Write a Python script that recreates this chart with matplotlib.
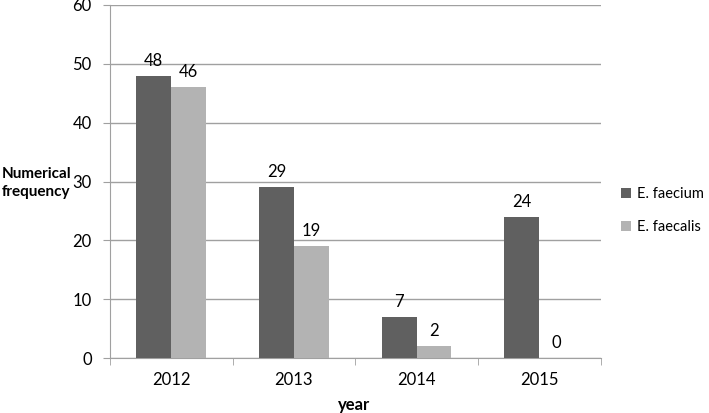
import matplotlib.pyplot as plt
import numpy as np

plt.rcParams['font.family'] = ['Lato', 'DejaVu Sans']

years = ['2012', '2013', '2014', '2015']
faecium = [48, 29, 7, 24]
faecalis = [46, 19, 2, 0]

fig = plt.figure(figsize=(7.09, 4.13), dpi=100)
ax = fig.add_axes([0.155, 0.133, 0.692, 0.855])

x = np.arange(len(years))
w = 0.285
b1 = ax.bar(x - w / 2, faecium, w, color='#606060', label='E. faecium', zorder=3)
b2 = ax.bar(x + w / 2, faecalis, w, color='#b3b3b3', label='E. faecalis', zorder=3)

for bars in (b1, b2):
    for r in bars:
        ax.text(r.get_x() + r.get_width() / 2, r.get_height() + 1.2, str(int(r.get_height())),
                ha='center', va='bottom', fontsize=12)

ax.set_xlim(-0.5, 3.5)
ax.set_ylim(0, 60)
ax.set_yticks(range(0, 61, 10))
ax.set_xticks(x)
ax.set_xticklabels(years)
ax.set_xticks(np.arange(-0.5, 4.0, 1), minor=True)
ax.tick_params(axis='x', which='major', length=0, pad=10, labelsize=12)
ax.tick_params(axis='x', which='minor', length=5, color='#a0a0a0')
ax.tick_params(axis='y', length=5, color='#a0a0a0', labelsize=12, pad=8)
ax.grid(axis='y', color='#a0a0a0', linewidth=1, zorder=0)
for s in ['top', 'right']:
    ax.spines[s].set_visible(False)
for s in ['left', 'bottom']:
    ax.spines[s].set_color('#a0a0a0')

fig.text(0.003, 0.557, 'Numerical\nfrequency', fontsize=11, fontweight='bold', ha='left', va='center',
         linespacing=1.4)
fig.text(0.5, 0.02, 'year', fontsize=12, fontweight='bold', ha='center', va='center')

fig.legend(handles=[b1, b2], loc='center left', bbox_to_anchor=(0.876, 0.49), frameon=False,
           borderaxespad=0, borderpad=0, fontsize=10.5, handlelength=0.7, handleheight=0.7,
           labelspacing=1.3, handletextpad=0.4)

fig.savefig('out.png', dpi=100)
